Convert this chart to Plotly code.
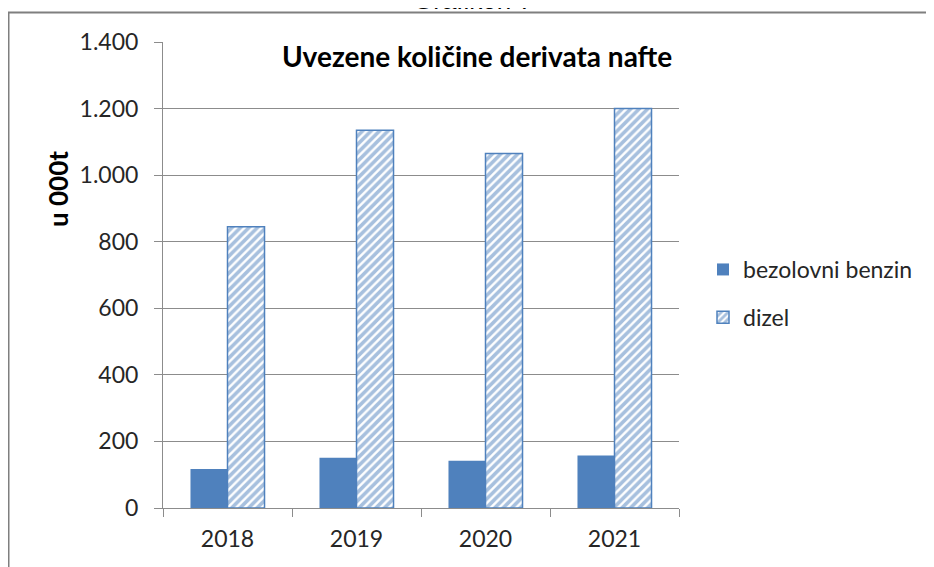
import plotly.graph_objects as go

years = ["2018", "2019", "2020", "2021"]
benzin = [117, 151, 142, 158]
dizel = [845, 1135, 1065, 1200]
y_tick_vals = [0, 200, 400, 600, 800, 1000, 1200, 1400]
y_tick_text = ["0", "200", "400", "600", "800", "1.000", "1.200", "1.400"]

# the page places the figure 8px from the window's top-left corner
OFF = 8
W, H = 934, 567
L, R, T, B = 163 - OFF, 679 - OFF, 42 - OFF, 508 - OFF
pw, ph = R - L, B - T

def px(x):
    """screen x -> paper x"""
    return (x - OFF - L) / pw

def py(y):
    """screen y -> paper y"""
    return (B - (y - OFF)) / ph

BLUE = "#4F81BD"
GRID = "#8C8C8C"
FONT = "Lato"
TXT = "#262626"

fig = go.Figure()
fig.add_trace(go.Bar(
    x=years, y=benzin, name="bezolovni benzin",
    marker=dict(color=BLUE, line=dict(color=BLUE, width=0)),
    legendgroup="a",
))
fig.add_trace(go.Bar(
    x=years, y=dizel, name="dizel",
    marker=dict(color="white", line=dict(color=BLUE, width=1.5),
                pattern=dict(shape="/", fgcolor=BLUE, bgcolor="white",
                             size=6, solidity=0.6, fillmode="overlay")),
    legendgroup="b",
))

fig.update_layout(
    width=W, height=H,
    margin=dict(l=L, r=W - R, t=T, b=H - B, pad=0),
    paper_bgcolor="white", plot_bgcolor="white",
    barmode="group", bargap=0.426, bargroupgap=0,
    font=dict(family=FONT, size=23, color=TXT),
    showlegend=True,
    legend=dict(x=px(703), y=py(248), xanchor="left", yanchor="top",
                font=dict(family=FONT, size=23, color=TXT),
                tracegroupgap=15, bgcolor="rgba(0,0,0,0)"),
    xaxis=dict(
        type="category", showgrid=False, showline=True, linecolor=GRID, linewidth=1,
        ticks="outside", tickson="boundaries", ticklen=8, tickcolor=GRID,
        ticklabelstandoff=10,
        tickfont=dict(family=FONT, size=23, color=TXT),
        fixedrange=True,
    ),
    yaxis=dict(
        range=[0, 1400], tickvals=y_tick_vals, ticktext=y_tick_text,
        showgrid=True, gridcolor=GRID, gridwidth=1,
        showline=True, linecolor=GRID, linewidth=1,
        ticks="outside", ticklen=8, tickcolor=GRID,
        ticklabelstandoff=11,
        tickfont=dict(family=FONT, size=23, color=TXT),
        zeroline=False, fixedrange=True,
    ),
)

# outer chart border (left and top edges)
fig.add_shape(type="path", xref="paper", yref="paper",
              path=f"M {px(8.5)},{py(600)} L {px(8.5)},{py(12.5)} L {px(960)},{py(12.5)}",
              line=dict(color="#7F7F7F", width=2))

annotations = [
    dict(text="Uvezene količine derivata nafte", x=px(477), y=py(56),
         xref="paper", yref="paper", showarrow=False,
         font=dict(family=FONT, size=28, color="#000000", weight="bold"),
         xanchor="center", yanchor="middle"),
    dict(text="u 000t", x=px(58), y=py(189), xref="paper", yref="paper",
         showarrow=False, textangle=-90,
         font=dict(family=FONT, size=26, color="#000000", weight="bold"),
         xanchor="center", yanchor="middle"),
    dict(text="Grafikon 7", x=px(473), y=py(17.5), xref="paper", yref="paper",
         showarrow=False,
         font=dict(family="Liberation Sans", size=26, color="#000000"),
         xanchor="center", yanchor="bottom"),
]
fig.update_layout(annotations=annotations)

fig.write_html("out.html")
